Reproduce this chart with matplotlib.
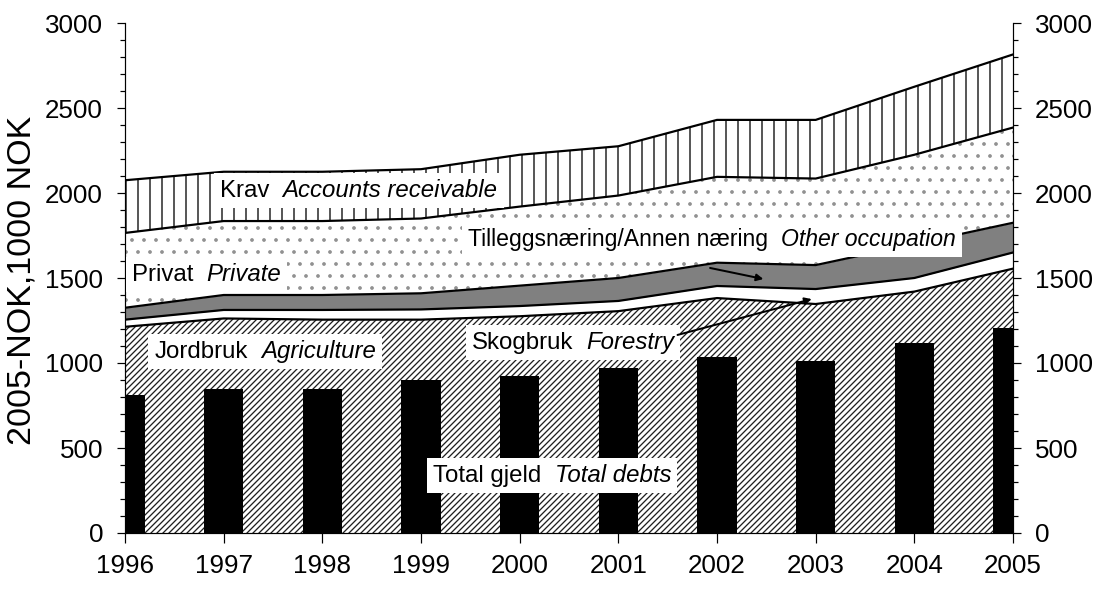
import numpy as np
import matplotlib
matplotlib.use('Agg')
import matplotlib.pyplot as plt
import matplotlib.ticker as ticker
from matplotlib.offsetbox import TextArea, HPacker, AnnotationBbox

plt.rcParams.update({
    'font.family': ['Liberation Sans', 'DejaVu Sans'],
    'hatch.linewidth': 1.3,
    'axes.linewidth': 1.2,
})

# Datos (1000 NOK, 2005-kroner)
years = [1996, 1997, 1998, 1999, 2000, 2001, 2002, 2003, 2004, 2005]
jordbruk = [1213, 1262, 1255, 1255, 1275, 1305, 1382, 1347, 1420, 1555]
skogbruk = [42, 50, 57, 60, 60, 60, 71, 88, 80, 95]
annen = [70, 88, 88, 95, 120, 135, 137, 141, 200, 175]
privat = [440, 435, 435, 440, 465, 485, 505, 509, 525, 560]
krav = [310, 290, 290, 290, 305, 290, 335, 345, 400, 430]
total_gjeld = [812, 848, 848, 900, 922, 970, 1035, 1012, 1118, 1205]

DPI = 72
W, H = 1102, 591
fig = plt.figure(figsize=(W / DPI, H / DPI), dpi=DPI)
ax = fig.add_axes([125 / W, 58 / H, 888 / W, 510 / H])

# Capas apiladas: valores, relleno, color del rayado, rayado
capas = [
    (jordbruk, 'white', '#202020', '////'),
    (skogbruk, 'white', 'black', None),
    (annen, '#808080', 'black', None),
    (privat, 'white', '#909090', '.'),
    (krav, 'white', 'black', '|'),
]
base = np.zeros(len(years))
for vals, fc, hc, hatch in capas:
    tope = base + np.array(vals)
    ax.fill_between(years, base, tope, facecolor=fc, edgecolor=hc,
                    hatch=hatch, linewidth=0, zorder=1)
    ax.plot(years, tope, color='black', lw=2.2, zorder=2)
    base = tope

# Barras de deuda total
ax.bar(years, total_gjeld, width=0.4, color='black', zorder=3)

ax.set_xlim(1996, 2005)
ax.set_ylim(0, 3000)
ax.set_xticks(years)
ax.yaxis.set_major_locator(ticker.MultipleLocator(500))
ax.yaxis.set_minor_locator(ticker.MultipleLocator(100))
ax.spines['top'].set_visible(False)
ax.tick_params(axis='y', which='both', direction='out', left=True,
               right=True, labelright=True, labelsize=26, pad=14, width=1.2)
ax.tick_params(axis='y', which='major', length=8)
ax.tick_params(axis='y', which='minor', length=5)
ax.tick_params(axis='x', direction='out', length=10, labelsize=26,
               pad=11, width=1.2)

fig.text(22 / W, 1 - 280 / H, '2005-NOK,1000 NOK', rotation=90,
         ha='center', va='center', fontsize=34)


def etiqueta(x, y, norsk, english, size=24):
    hijos = [TextArea(norsk, textprops=dict(size=size)),
             TextArea(english, textprops=dict(size=size, style='italic'))]
    caja = HPacker(children=hijos, sep=13, pad=0, align='baseline')
    ab = AnnotationBbox(caja, (x, y), xycoords='data', frameon=True,
                        pad=0.25, fontsize=size,
                        bboxprops=dict(facecolor='white', edgecolor='none'),
                        zorder=5)
    ax.add_artist(ab)


etiqueta(1998.37, 2012, 'Krav', 'Accounts receivable')
etiqueta(2001.95, 1724, 'Tilleggsnæring/Annen næring', 'Other occupation', size=23)
etiqueta(1996.83, 1518, 'Privat', 'Private')
etiqueta(1997.42, 1065, 'Jordbruk', 'Agriculture')
etiqueta(2000.54, 1118, 'Skogbruk', 'Forestry')
etiqueta(2000.33, 341, 'Total gjeld', 'Total debts')

flecha = dict(arrowstyle='-|>', color='black', lw=2, mutation_scale=14,
              shrinkA=0, shrinkB=0)
ax.annotate('', xy=(2002.47, 1494), xytext=(2001.93, 1559),
            arrowprops=flecha, zorder=6)
ax.annotate('', xy=(2002.96, 1376), xytext=(2001.6, 1165),
            arrowprops=flecha, zorder=6)

fig.savefig('out.png', dpi=DPI)
